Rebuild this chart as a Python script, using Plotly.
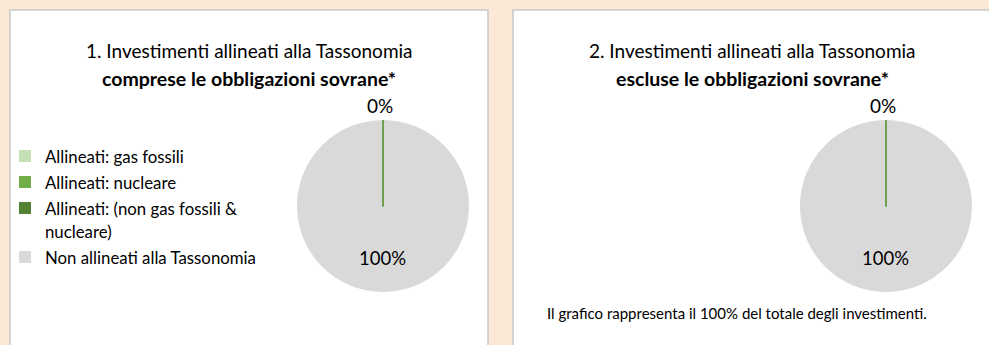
import math
import plotly.graph_objects as go

W, H = 989, 345

# Data
categories = [
    "Allineati: gas fossili",
    "Allineati: nucleare",
    "Allineati: (non gas fossili &<br>nucleare)",
    "Non allineati alla Tassonomia",
]
incl_sovereign = [0, 0, 0, 100]
excl_sovereign = [0, 0, 0, 100]
title_lines = [
    ("1. Investimenti allineati alla Tassonomia", "comprese le obbligazioni sovrane*"),
    ("2. Investimenti allineati alla Tassonomia", "escluse le obbligazioni sovrane*"),
]
footnote = "Il grafico rappresenta il 100% del totale degli investimenti."

colors = ["#C5E0B4", "#70AD47", "#548235", "#D9D9D9"]
edge_color = "#6B9E4C"
FONT = "Lato"
BG = "#FBE8D6"

# Panel geometry (pixels)
panel_left = [10, 513]
panel_w = 478
pie_cx_off = 373
pie_cy = 206
pie_r = 86


def px(x):
    return x / W


def py(y):
    return 1 - y / H


# legend labels: smaller text inside a taller legend line
legend_labels = [f'<span style="font-size:16.8px">{c}</span>' for c in categories]

fig = go.Figure()
shapes = []
annotations = []

for i, (vals, (t1, t2)) in enumerate(zip([incl_sovereign, excl_sovereign], title_lines)):
    x0 = panel_left[i]
    shapes.append(dict(type="rect", xref="paper", yref="paper",
                       x0=px(x0), x1=px(x0 + panel_w), y0=py(H + 20), y1=py(10),
                       fillcolor="white", line=dict(color="#C8C8C8", width=1.5),
                       layer="below"))
    cx = x0 + pie_cx_off
    legend_name = "legend" if i == 0 else "legend2"
    fig.add_trace(go.Pie(
        labels=legend_labels, values=vals, sort=False, direction="clockwise",
        rotation=0, textinfo="none", hoverinfo="percent",
        marker=dict(colors=colors, line=dict(width=0)),
        domain=dict(x=[px(cx - pie_r), px(cx + pie_r)],
                    y=[py(pie_cy + pie_r), py(pie_cy - pie_r)]),
        legend=legend_name, showlegend=True,
    ))
    total = sum(vals)
    aligned = sum(vals[:3]) / total * 100
    rest = vals[3] / total * 100

    # boundary of the (empty) aligned slices, measured clockwise from 12 o'clock
    for frac in (0.0, aligned / 100):
        ang = 2 * math.pi * frac
        ex = cx + pie_r * math.sin(ang)
        ey = pie_cy - pie_r * math.cos(ang)
        shapes.append(dict(type="line", xref="paper", yref="paper",
                           x0=px(cx), y0=py(pie_cy + 0.5), x1=px(ex), y1=py(ey),
                           line=dict(color=edge_color, width=1.6)))

    annotations.append(dict(text=t1, x=px(x0 + panel_w / 2), y=py(50.5),
                            xref="paper", yref="paper", showarrow=False,
                            xanchor="center", yanchor="middle",
                            font=dict(family=FONT, size=19, color="#000")))
    annotations.append(dict(text=f"<b>{t2}</b>", x=px(x0 + panel_w / 2), y=py(78),
                            xref="paper", yref="paper", showarrow=False,
                            xanchor="center", yanchor="middle",
                            font=dict(family=FONT, size=19.5, color="#000")))
    annotations.append(dict(text=f"{aligned:.0f}%", x=px(cx - 3), y=py(105),
                            xref="paper", yref="paper", showarrow=False,
                            xanchor="center", yanchor="middle",
                            font=dict(family=FONT, size=19, color="#000")))
    annotations.append(dict(text=f"{rest:.0f}%", x=px(cx - 1), y=py(258),
                            xref="paper", yref="paper", showarrow=False,
                            xanchor="center", yanchor="middle",
                            font=dict(family=FONT, size=18.5, color="#000")))

annotations.append(dict(text=footnote, x=px(737), y=py(313), xref="paper", yref="paper",
                        showarrow=False, xanchor="center", yanchor="middle",
                        font=dict(family=FONT, size=15, color="#000")))

legend_common = dict(
    yanchor="top", xanchor="left", bgcolor="rgba(0,0,0,0)",
    font=dict(family=FONT, size=17.7, color="#000"),
    valign="top", traceorder="normal", itemclick=False, itemdoubleclick=False,
)

fig.update_layout(
    width=W, height=H,
    margin=dict(l=0, r=0, t=0, b=0),
    paper_bgcolor=BG, plot_bgcolor=BG,
    shapes=shapes, annotations=annotations,
    legend=dict(x=px(5), y=py(138), **legend_common),
    legend2=dict(x=px(508), y=py(138), **legend_common),
)

fig.write_html("out.html")
